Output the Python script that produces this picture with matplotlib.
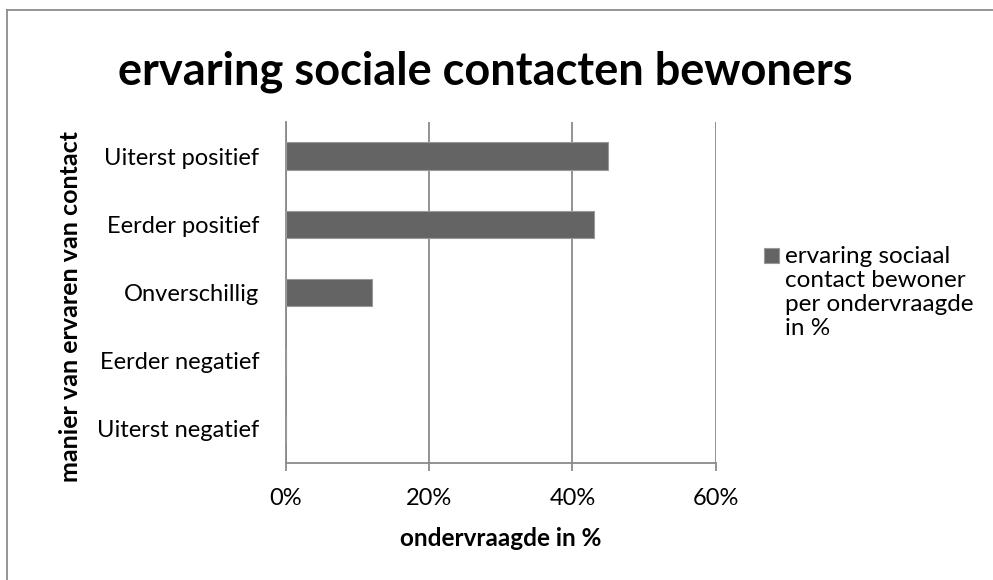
import matplotlib.pyplot as plt
from matplotlib.lines import Line2D
from matplotlib.patches import Rectangle
from matplotlib.ticker import PercentFormatter

# Answers per category (percentage of respondents)
categories = ['Uiterst positief', 'Eerder positief', 'Onverschillig',
              'Eerder negatief', 'Uiterst negatief']
percentages = [45, 43, 12, 0, 0]
x_ticks = [0, 20, 40, 60]
series_name = 'ervaring sociaal\ncontact bewoner\nper ondervraagde\nin %'

plt.rcParams['font.family'] = ['Lato', 'DejaVu Sans']

fig = plt.figure(figsize=(9.93, 5.8), dpi=100)
ax = fig.add_axes([0.288, 0.2017, 0.4327, 0.588])

bar_color = '#646464'
grid_color = '#8a8a8a'

ax.barh(range(len(categories)), percentages, height=0.4,
        color=bar_color, edgecolor='#9a9a9a', linewidth=0.8, zorder=3)

ax.set_xlim(0, 60)
ax.set_ylim(len(categories) - 0.5, -0.5)
ax.set_xticks(x_ticks)
ax.xaxis.set_major_formatter(PercentFormatter(decimals=0))
ax.set_yticks(range(len(categories)))
ax.set_yticklabels(categories)

ax.grid(axis='x', color=grid_color, linewidth=1.3, zorder=0)
for side in ['top', 'right']:
    ax.spines[side].set_visible(False)
for side in ['left', 'bottom']:
    ax.spines[side].set_color(grid_color)
    ax.spines[side].set_linewidth(1.3)

ax.tick_params(axis='x', length=6, width=1.3, color=grid_color, pad=12, labelsize=17)
ax.tick_params(axis='y', length=0, pad=19, labelsize=17)

ax.set_xlabel('ondervraagde in %', fontsize=17.5, fontweight='bold', va='center')
ax.xaxis.set_label_coords(0.5, -0.22)
fig.text(0.0705, 0.472, 'manier van ervaren van contact', rotation=90,
         fontsize=18, fontweight='bold', ha='center', va='center')

fig.text(0.489, 0.876, 'ervaring sociale contacten bewoners',
         fontsize=32.5, fontweight='bold', ha='center', va='center')

# legend: square marker next to the first line of the series name
fig.patches.append(Rectangle((0.7694, 0.5466), 0.0151, 0.0259,
                             transform=fig.transFigure, facecolor=bar_color,
                             edgecolor='#9a9a9a', linewidth=0.8))
fig.text(0.7905, 0.4957, series_name, fontsize=17.5, ha='left', va='center',
         linespacing=1.19)

# thin outer frame of the chart area (left and top edges)
frame_kw = dict(transform=fig.transFigure, color='#8c8c8c', linewidth=1.3)
fig.lines.append(Line2D([0.0075, 0.0075], [0.0, 0.983], **frame_kw))
fig.lines.append(Line2D([0.0075, 1.0], [0.983, 0.983], **frame_kw))

fig.savefig('out.png', dpi=100)
